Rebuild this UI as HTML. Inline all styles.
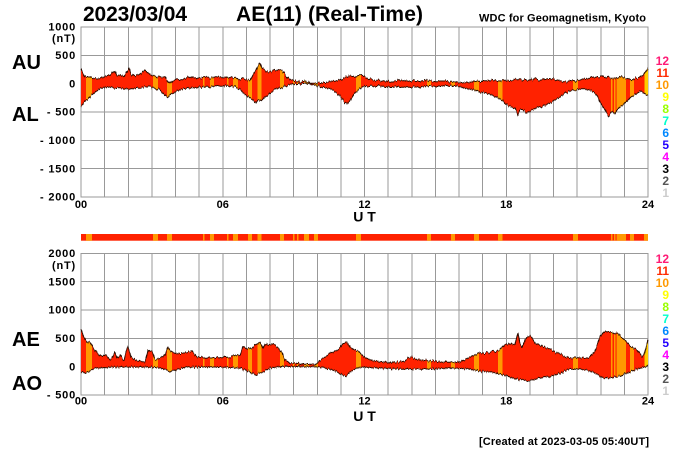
<!DOCTYPE html>
<html><head><meta charset="utf-8"><style>
html,body{margin:0;padding:0;background:#fff;}
svg{display:block;font-family:"Liberation Sans",Arial,sans-serif;font-weight:bold;}
</style></head><body>
<svg width="700" height="450" viewBox="0 0 700 450" xmlns="http://www.w3.org/2000/svg">
<rect x="0" y="0" width="700" height="450" fill="#fff"/>
<defs>
<filter id="jit" filterUnits="userSpaceOnUse" x="0" y="0" width="700" height="450">
<feTurbulence type="fractalNoise" baseFrequency="0.7 0.03" numOctaves="2" seed="7" result="n"/>
<feColorMatrix in="n" type="matrix" values="0 0 0 0 0.5  0 1 0 0 0  0 0 0 0 0  0 0 0 0 1" result="m"/>
<feDisplacementMap in="SourceGraphic" in2="m" scale="5" xChannelSelector="R" yChannelSelector="G"/>
</filter>
<clipPath id="ctop">
<path d="M81,83.7 L81,69 83,73 85,77 90,77 95,78 100,78 105,76 110,75 113,72 115,71 117,76 120,75 124,77 127,72 129,68 131,74 135,76 140,74 145,70 148,73 150,75 155,76 160,77 165,77 168,82 170,84 173,80 176,79 180,80 185,79 190,77 195,78 200,78 205,77 210,78 215,77 220,77 225,78 230,77 235,78 240,79 245,79 250,80 253,74 256,70 258,66 260,63 262,68 265,70 268,72 270,72 273,70 276,71 279,70 282,70 284,73 287,77 290,80 295,81 300,82 305,82 310,83 315,83 320,83 325,83 330,82 335,81 340,80 344,78 347,77 349,76 352,77 355,77 358,75 361,75 364,76 367,78 370,79 375,80 380,81 385,81 390,82 393,82 397,81 400,80 405,81 410,81 415,81 420,81 425,80 430,81 435,81 440,81 445,81 450,82 455,82 460,82 465,82 470,82 475,81 480,81 485,81 490,81 495,80 500,81 505,80 510,81 515,80 520,79 525,80 530,80 535,79 540,80 545,79 550,79 555,80 560,81 565,82 570,81 575,81 580,80 585,79 590,78 595,77 600,77 603,76 606,77 609,78 612,78 615,78 618,77 621,76 624,77 627,78 630,80 633,79 636,78 639,78 641,77 643,76 645,73 647,70 648,68 L648,83.7 Z"/>
<path d="M81,83.7 L81,106 83,104 85,101 88,99 90,97 93,94 96,91 100,88 105,87 110,87 115,88 120,88 125,89 130,89 135,88 140,88 145,87 150,87 155,88 160,90 163,93 166,96 168,97 170,95 173,93 175,92 180,90 185,89 190,88 195,88 200,87 205,87 210,87 215,86 220,86 225,86 230,86 235,87 240,89 243,93 246,95 250,98 253,100 256,103 258,100 260,101 262,100 265,97 268,95 270,93 275,90 280,88 285,86 290,85 295,84 300,84 305,84 310,84 315,85 318,86 320,87 325,88 330,89 335,92 338,94 340,96 343,100 345,103 347,104 349,102 351,99 353,96 355,93 358,90 362,87 366,86 370,86 375,86 380,86 385,87 390,87 395,87 400,87 405,87 410,87 415,87 420,87 425,86 430,86 435,86 440,86 445,86 450,86 455,86 460,86 463,87 466,88 470,89 475,90 480,92 485,93 490,94 493,96 496,97 500,99 503,101 506,104 509,106 512,107 515,108 517,112 518,115 520,110 522,110 525,112 527,113 530,112 533,110 536,108 540,107 545,105 550,103 555,100 560,97 565,93 570,91 575,90 580,89 585,89 590,90 595,93 598,97 600,102 603,107 605,110 607,114 609,116 611,113 613,112 615,114 617,110 620,107 623,105 625,103 628,100 631,97 634,95 637,93 640,92 643,93 645,94 648,95 L648,83.7 Z"/>
</clipPath>
<clipPath id="cbot">
<path d="M81,366 L81,329 83,335 85,339 87,342 90,343 93,348 95,351 97,353 100,356 103,356 106,355 110,360 113,357 115,352 117,358 120,355 122,358 124,360 126,352 128,347 130,352 131,357 135,360 140,361 145,362 147,355 148,350 150,352 152,352 155,360 160,358 163,357 165,355 168,347 170,350 172,352 176,353 180,353 185,353 188,352 192,351 196,357 200,357 205,358 210,358 215,358 220,357 225,357 230,357 235,356 240,355 243,347 247,349 250,348 253,347 255,345 258,343 260,342 263,348 265,343 267,344 270,345 272,344 275,346 278,348 282,353 285,360 288,362 290,363 295,363 300,364 305,364 310,364 315,365 318,362 320,360 325,357 330,353 333,352 336,351 340,348 343,343 345,343 347,342 350,347 353,349 355,350 358,352 360,353 363,356 365,358 370,360 375,361 380,362 385,362 390,363 395,362 400,362 405,361 408,358 412,357 415,359 420,360 425,360 430,361 435,361 440,362 445,362 450,362 455,362 460,362 465,360 470,357 475,355 480,353 485,353 490,352 495,351 500,350 503,347 505,345 508,344 510,343 513,344 515,345 517,336 518,333 520,344 522,347 525,340 527,337 530,336 532,338 535,343 540,345 545,347 550,349 555,352 560,354 565,357 570,358 575,358 580,358 585,358 590,357 593,353 595,350 598,343 600,337 603,333 605,331 608,332 612,332 615,334 618,333 621,337 625,340 628,343 630,345 633,347 637,350 640,354 642,357 644,355 646,348 648,340 L648,366 Z"/>
<path d="M81,366 L81,372 85,373 88,372 90,371 95,368 100,368 110,367 120,367 130,367 140,367 150,367 160,368 165,369 170,372 175,370 180,369 185,367 200,367 220,367 240,368 245,370 250,372 254,374 257,375 260,373 263,372 270,368 280,366.5 300,366.5 320,367 330,369 335,371 340,373 345,376 348,374 350,372 355,369 360,367 380,368 400,369 430,369 450,368 470,369 480,371 490,372 500,374 510,377 515,378 520,380 527,381 533,380 540,378 550,376 555,375 560,373 565,371 570,369 580,369 585,370 590,371 595,373 600,376 605,378 612,378 615,377 620,376 625,374 630,372 635,370 640,368 645,367 648,365 L648,366 Z"/>
</clipPath>
</defs>

<!-- ===== TOP PANEL ===== -->
<g stroke="#999" stroke-width="1" fill="none" shape-rendering="crispEdges">
<rect x="81" y="27" width="567" height="170"/>
<path d="M81,55.3H648M81,83.7H648M81,112H648M81,140.3H648M81,168.7H648"/>
<path d="M104.6,27V197M128.3,27V197M151.9,27V197M175.5,27V197M199.1,27V197M222.8,27V197M246.4,27V197M270,27V197M293.6,27V197M317.3,27V197M340.9,27V197M364.5,27V197M388.1,27V197M411.8,27V197M435.4,27V197M459,27V197M482.6,27V197M506.3,27V197M529.9,27V197M553.5,27V197M577.1,27V197M600.8,27V197M624.4,27V197"/>
</g>
<g filter="url(#jit)">
<g clip-path="url(#ctop)">
<rect x="81" y="27" width="567" height="170" fill="#ff2200"/>
<g fill="#ff9900">
<rect x="86" y="27" width="6" height="170"/><rect x="153" y="27" width="5" height="170"/><rect x="167" y="27" width="5" height="170"/><rect x="203" y="27" width="1.5" height="170"/><rect x="210" y="27" width="4" height="170"/><rect x="227" y="27" width="1.5" height="170"/><rect x="233" y="27" width="5" height="170"/><rect x="248" y="27" width="4" height="170"/><rect x="257.5" y="27" width="4" height="170"/><rect x="280" y="27" width="4" height="170"/><rect x="293" y="27" width="1.5" height="170"/><rect x="297" y="27" width="1.5" height="170"/><rect x="304" y="27" width="5" height="170"/><rect x="314" y="27" width="4" height="170"/><rect x="356" y="27" width="5" height="170"/><rect x="427" y="27" width="4" height="170"/><rect x="451" y="27" width="4" height="170"/><rect x="474" y="27" width="5" height="170"/><rect x="498" y="27" width="4.5" height="170"/><rect x="573" y="27" width="5" height="170"/><rect x="611" y="27" width="1.5" height="170"/><rect x="614" y="27" width="1.5" height="170"/><rect x="616.6" y="27" width="9.4" height="170"/><rect x="630" y="27" width="4" height="170"/>
</g>
<rect x="644.5" y="27" width="3.5" height="170" fill="#ffcc00"/>
</g>
<g stroke="#2a0a00" stroke-width="1" fill="none" stroke-linejoin="round">
<polyline points="81,69 83,73 85,77 90,77 95,78 100,78 105,76 110,75 113,72 115,71 117,76 120,75 124,77 127,72 129,68 131,74 135,76 140,74 145,70 148,73 150,75 155,76 160,77 165,77 168,82 170,84 173,80 176,79 180,80 185,79 190,77 195,78 200,78 205,77 210,78 215,77 220,77 225,78 230,77 235,78 240,79 245,79 250,80 253,74 256,70 258,66 260,63 262,68 265,70 268,72 270,72 273,70 276,71 279,70 282,70 284,73 287,77 290,80 295,81 300,82 305,82 310,83 315,83 320,83 325,83 330,82 335,81 340,80 344,78 347,77 349,76 352,77 355,77 358,75 361,75 364,76 367,78 370,79 375,80 380,81 385,81 390,82 393,82 397,81 400,80 405,81 410,81 415,81 420,81 425,80 430,81 435,81 440,81 445,81 450,82 455,82 460,82 465,82 470,82 475,81 480,81 485,81 490,81 495,80 500,81 505,80 510,81 515,80 520,79 525,80 530,80 535,79 540,80 545,79 550,79 555,80 560,81 565,82 570,81 575,81 580,80 585,79 590,78 595,77 600,77 603,76 606,77 609,78 612,78 615,78 618,77 621,76 624,77 627,78 630,80 633,79 636,78 639,78 641,77 643,76 645,73 647,70 648,68"/>
<polyline points="81,106 83,104 85,101 88,99 90,97 93,94 96,91 100,88 105,87 110,87 115,88 120,88 125,89 130,89 135,88 140,88 145,87 150,87 155,88 160,90 163,93 166,96 168,97 170,95 173,93 175,92 180,90 185,89 190,88 195,88 200,87 205,87 210,87 215,86 220,86 225,86 230,86 235,87 240,89 243,93 246,95 250,98 253,100 256,103 258,100 260,101 262,100 265,97 268,95 270,93 275,90 280,88 285,86 290,85 295,84 300,84 305,84 310,84 315,85 318,86 320,87 325,88 330,89 335,92 338,94 340,96 343,100 345,103 347,104 349,102 351,99 353,96 355,93 358,90 362,87 366,86 370,86 375,86 380,86 385,87 390,87 395,87 400,87 405,87 410,87 415,87 420,87 425,86 430,86 435,86 440,86 445,86 450,86 455,86 460,86 463,87 466,88 470,89 475,90 480,92 485,93 490,94 493,96 496,97 500,99 503,101 506,104 509,106 512,107 515,108 517,112 518,115 520,110 522,110 525,112 527,113 530,112 533,110 536,108 540,107 545,105 550,103 555,100 560,97 565,93 570,91 575,90 580,89 585,89 590,90 595,93 598,97 600,102 603,107 605,110 607,114 609,116 611,113 613,112 615,114 617,110 620,107 623,105 625,103 628,100 631,97 634,95 637,93 640,92 643,93 645,94 648,95"/>
</g>
</g>

<!-- ===== COLOR BAR ===== -->
<rect x="81" y="234" width="567" height="6.7" fill="#ff2200"/>
<g fill="#ff9900">
<rect x="86" y="234" width="6" height="6.7"/><rect x="153" y="234" width="5" height="6.7"/><rect x="167" y="234" width="5" height="6.7"/><rect x="203" y="234" width="1.5" height="6.7"/><rect x="210" y="234" width="4" height="6.7"/><rect x="227" y="234" width="1.5" height="6.7"/><rect x="233" y="234" width="5" height="6.7"/><rect x="248" y="234" width="4" height="6.7"/><rect x="257.5" y="234" width="4" height="6.7"/><rect x="280" y="234" width="4" height="6.7"/><rect x="293" y="234" width="1.5" height="6.7"/><rect x="297" y="234" width="1.5" height="6.7"/><rect x="304" y="234" width="5" height="6.7"/><rect x="314" y="234" width="4" height="6.7"/><rect x="356" y="234" width="5" height="6.7"/><rect x="427" y="234" width="4" height="6.7"/><rect x="451" y="234" width="4" height="6.7"/><rect x="474" y="234" width="5" height="6.7"/><rect x="498" y="234" width="4.5" height="6.7"/><rect x="573" y="234" width="5" height="6.7"/><rect x="611" y="234" width="1.5" height="6.7"/><rect x="614" y="234" width="1.5" height="6.7"/><rect x="616.6" y="234" width="9.4" height="6.7"/><rect x="630" y="234" width="4" height="6.7"/><rect x="644" y="234" width="4" height="6.7"/>
</g>

<!-- ===== BOTTOM PANEL ===== -->
<g stroke="#999" stroke-width="1" fill="none" shape-rendering="crispEdges">
<rect x="81" y="253.3" width="567" height="141.7"/>
<path d="M81,281.7H648M81,310H648M81,338.3H648M81,366.7H648"/>
<path d="M104.6,253.3V395M128.3,253.3V395M151.9,253.3V395M175.5,253.3V395M199.1,253.3V395M222.8,253.3V395M246.4,253.3V395M270,253.3V395M293.6,253.3V395M317.3,253.3V395M340.9,253.3V395M364.5,253.3V395M388.1,253.3V395M411.8,253.3V395M435.4,253.3V395M459,253.3V395M482.6,253.3V395M506.3,253.3V395M529.9,253.3V395M553.5,253.3V395M577.1,253.3V395M600.8,253.3V395M624.4,253.3V395"/>
</g>
<g filter="url(#jit)">
<g clip-path="url(#cbot)">
<rect x="81" y="253" width="567" height="142" fill="#ff2200"/>
<g fill="#ff9900">
<rect x="86" y="253" width="6" height="142"/><rect x="153" y="253" width="5" height="142"/><rect x="167" y="253" width="5" height="142"/><rect x="203" y="253" width="1.5" height="142"/><rect x="210" y="253" width="4" height="142"/><rect x="227" y="253" width="1.5" height="142"/><rect x="233" y="253" width="5" height="142"/><rect x="248" y="253" width="4" height="142"/><rect x="257.5" y="253" width="4" height="142"/><rect x="280" y="253" width="4" height="142"/><rect x="293" y="253" width="1.5" height="142"/><rect x="297" y="253" width="1.5" height="142"/><rect x="304" y="253" width="5" height="142"/><rect x="314" y="253" width="4" height="142"/><rect x="356" y="253" width="5" height="142"/><rect x="427" y="253" width="4" height="142"/><rect x="451" y="253" width="4" height="142"/><rect x="474" y="253" width="5" height="142"/><rect x="498" y="253" width="4.5" height="142"/><rect x="573" y="253" width="5" height="142"/><rect x="611" y="253" width="1.5" height="142"/><rect x="614" y="253" width="1.5" height="142"/><rect x="616.6" y="253" width="9.4" height="142"/><rect x="630" y="253" width="4" height="142"/>
</g>
<rect x="644.5" y="253" width="3.5" height="142" fill="#ffcc00"/>
</g>
<g stroke="#2a0a00" stroke-width="1" fill="none" stroke-linejoin="round">
<polyline points="81,329 83,335 85,339 87,342 90,343 93,348 95,351 97,353 100,356 103,356 106,355 110,360 113,357 115,352 117,358 120,355 122,358 124,360 126,352 128,347 130,352 131,357 135,360 140,361 145,362 147,355 148,350 150,352 152,352 155,360 160,358 163,357 165,355 168,347 170,350 172,352 176,353 180,353 185,353 188,352 192,351 196,357 200,357 205,358 210,358 215,358 220,357 225,357 230,357 235,356 240,355 243,347 247,349 250,348 253,347 255,345 258,343 260,342 263,348 265,343 267,344 270,345 272,344 275,346 278,348 282,353 285,360 288,362 290,363 295,363 300,364 305,364 310,364 315,365 318,362 320,360 325,357 330,353 333,352 336,351 340,348 343,343 345,343 347,342 350,347 353,349 355,350 358,352 360,353 363,356 365,358 370,360 375,361 380,362 385,362 390,363 395,362 400,362 405,361 408,358 412,357 415,359 420,360 425,360 430,361 435,361 440,362 445,362 450,362 455,362 460,362 465,360 470,357 475,355 480,353 485,353 490,352 495,351 500,350 503,347 505,345 508,344 510,343 513,344 515,345 517,336 518,333 520,344 522,347 525,340 527,337 530,336 532,338 535,343 540,345 545,347 550,349 555,352 560,354 565,357 570,358 575,358 580,358 585,358 590,357 593,353 595,350 598,343 600,337 603,333 605,331 608,332 612,332 615,334 618,333 621,337 625,340 628,343 630,345 633,347 637,350 640,354 642,357 644,355 646,348 648,340"/>
<polyline points="81,372 85,373 88,372 90,371 95,368 100,368 110,367 120,367 130,367 140,367 150,367 160,368 165,369 170,372 175,370 180,369 185,367 200,367 220,367 240,368 245,370 250,372 254,374 257,375 260,373 263,372 270,368 280,366.5 300,366.5 320,367 330,369 335,371 340,373 345,376 348,374 350,372 355,369 360,367 380,368 400,369 430,369 450,368 470,369 480,371 490,372 500,374 510,377 515,378 520,380 527,381 533,380 540,378 550,376 555,375 560,373 565,371 570,369 580,369 585,370 590,371 595,373 600,376 605,378 612,378 615,377 620,376 625,374 630,372 635,370 640,368 645,367 648,365"/>
</g>
</g>

<!-- ===== TEXT ===== -->
<text x="83" y="21" font-size="21" fill="#000" textLength="104">2023/03/04</text>
<text x="236" y="21" font-size="21" fill="#000" textLength="187">AE(11) (Real-Time)</text>
<text x="479" y="21.5" font-size="11" fill="#000" textLength="167">WDC for Geomagnetism, Kyoto</text>

<g font-size="20" fill="#000">
<text x="12" y="69">AU</text>
<text x="12" y="121">AL</text>
<text x="12" y="346">AE</text>
<text x="12" y="390">AO</text>
</g>

<g font-size="11" fill="#000" text-anchor="end" letter-spacing="0.8">
<text x="76" y="30.7">1000</text>
<text x="76" y="42">(nT)</text>
<text x="76" y="59">500</text>
<text x="76" y="87.4">0</text>
<text x="76" y="115.7">- 500</text>
<text x="76" y="144">- 1000</text>
<text x="76" y="172.4">- 1500</text>
<text x="76" y="200.7">- 2000</text>

<text x="76" y="257">2000</text>
<text x="76" y="269">(nT)</text>
<text x="76" y="285.4">1500</text>
<text x="76" y="313.7">1000</text>
<text x="76" y="342">500</text>
<text x="76" y="370.4">0</text>
<text x="76" y="398.7">- 500</text>
</g>

<g font-size="11" fill="#000" text-anchor="middle">
<text x="81" y="208">00</text>
<text x="222.8" y="208">06</text>
<text x="364.5" y="208">12</text>
<text x="506.3" y="208">18</text>
<text x="648" y="208">24</text>
<text x="81" y="404.5">00</text>
<text x="222.8" y="404.5">06</text>
<text x="364.5" y="404.5">12</text>
<text x="506.3" y="404.5">18</text>
<text x="648" y="404.5">24</text>
</g>
<g font-size="14" fill="#000" text-anchor="middle">
<text x="364.5" y="221.7">U T</text>
<text x="364.5" y="421">U T</text>
</g>

<g font-size="12" text-anchor="end">
<text x="669" y="65" fill="#ff1a75">12</text>
<text x="669" y="77" fill="#ff2a00">11</text>
<text x="669" y="89" fill="#ff9900">10</text>
<text x="669" y="101" fill="#ffff00">9</text>
<text x="669" y="113" fill="#99ff00">8</text>
<text x="669" y="125" fill="#00ffcc">7</text>
<text x="669" y="137" fill="#0088ff">6</text>
<text x="669" y="149" fill="#2200ff">5</text>
<text x="669" y="161" fill="#ff00ff">4</text>
<text x="669" y="173" fill="#000">3</text>
<text x="669" y="185" fill="#555">2</text>
<text x="669" y="197" fill="#ccc">1</text>

<text x="669" y="263" fill="#ff1a75">12</text>
<text x="669" y="275" fill="#ff2a00">11</text>
<text x="669" y="287" fill="#ff9900">10</text>
<text x="669" y="299" fill="#ffff00">9</text>
<text x="669" y="311" fill="#99ff00">8</text>
<text x="669" y="323" fill="#00ffcc">7</text>
<text x="669" y="335" fill="#0088ff">6</text>
<text x="669" y="347" fill="#2200ff">5</text>
<text x="669" y="359" fill="#ff00ff">4</text>
<text x="669" y="371" fill="#000">3</text>
<text x="669" y="383" fill="#555">2</text>
<text x="669" y="395" fill="#ccc">1</text>
</g>

<text x="479" y="445" font-size="11" fill="#000" textLength="170">[Created at 2023-03-05 05:40UT]</text>
</svg>
</body></html>
